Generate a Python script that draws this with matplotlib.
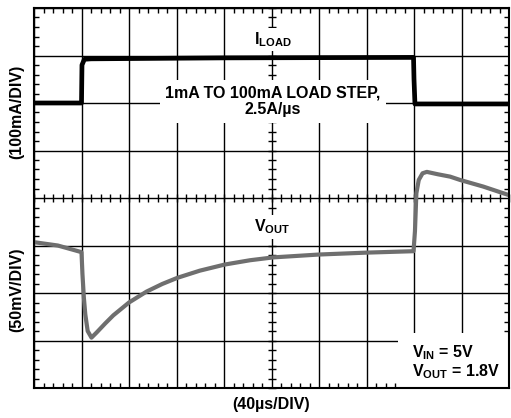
import numpy as np
import matplotlib
matplotlib.use("Agg")
import matplotlib.pyplot as plt
from matplotlib.patches import Rectangle

plt.rcParams['font.family'] = ['Liberation Sans', 'DejaVu Sans']
plt.rcParams['font.weight'] = 'bold'
plt.rcParams['mathtext.fontset'] = 'custom'
plt.rcParams['mathtext.rm'] = 'Liberation Sans:bold'
plt.rcParams['mathtext.it'] = 'Liberation Sans:bold'
plt.rcParams['mathtext.bf'] = 'Liberation Sans:bold'

# time in divisions (40us/div), traces in screen divisions
t_load = [0, 1.0, 1.01, 1.06, 1.2, 4.0, 7.99, 8.0, 8.02, 10.0]
i_load = [6.0, 6.0, 6.8, 6.92, 6.93, 6.95, 6.96, 6.5, 5.98, 5.98]

t_vout = [0, 0.5, 1.0, 1.02, 1.05, 1.08, 1.13, 1.21, 1.32, 1.5, 1.67, 2.0, 2.37,
          2.7, 3.02, 3.49, 4.02, 4.55, 5.04, 6.0, 7.0, 7.99, 8.02, 8.05, 8.1,
          8.18, 8.27, 8.5, 8.76, 8.97, 9.46, 10.0]
v_out = [3.07, 3.0, 2.86, 2.4, 1.9, 1.55, 1.2, 1.06, 1.17, 1.36, 1.53, 1.80, 2.03,
         2.19, 2.32, 2.47, 2.60, 2.69, 2.75, 2.81, 2.85, 2.88, 3.3, 4.1, 4.38,
         4.52, 4.55, 4.5, 4.45, 4.38, 4.24, 4.06]

fig = plt.figure(figsize=(5.11, 4.18), dpi=100)
ax = fig.add_axes([34/511, 30/418, 475/511, 380/418])

ax.set_xlim(0, 10)
ax.set_ylim(0, 8)
ax.set_xticks(np.arange(0, 11, 1))
ax.set_yticks(np.arange(0, 9, 1))
ax.set_xticks(np.arange(0, 10.01, 0.2), minor=True)
ax.set_yticks(np.arange(0, 8.01, 0.2), minor=True)
ax.set_xticklabels([])
ax.set_yticklabels([])
ax.tick_params(which='major', length=0)
ax.tick_params(which='minor', direction='in', length=3.5, width=1,
               top=True, right=True, bottom=True, left=True)
ax.grid(True, which='major', color='black', linewidth=1.0)
for s in ax.spines.values():
    s.set_linewidth(1.5)

# ticks on the centre lines
xm = np.arange(0, 10.01, 0.2)
ym = np.arange(0, 8.01, 0.2)
ax.plot(xm, np.full_like(xm, 4), linestyle='none', marker='|', markersize=6,
        color='black', markeredgewidth=1, zorder=1.6, clip_on=False)
ax.plot(np.full_like(ym, 5), ym, linestyle='none', marker='_', markersize=6,
        color='black', markeredgewidth=1, zorder=1.6, clip_on=False)

ax.plot(t_load, i_load, color='black', linewidth=3.4, zorder=2.2,
        solid_joinstyle='round')
ax.plot(t_vout, v_out, color='#6f6f6f', linewidth=3.0, zorder=2.2,
        solid_joinstyle='round')

# white box behind V_IN / V_OUT note
ax.add_patch(Rectangle((7.66, 0), 2.34, 1.16, facecolor='white',
                       edgecolor='none', zorder=2.0))

fs = 11.5
ax.text(5.03, 7.33, r'I$_{\mathrm{LOAD}}$', ha='center', va='center', fontsize=fs,
        zorder=3, bbox=dict(facecolor='white', edgecolor='none', pad=1.5))
ax.text(5.03, 6.04, '1mA TO 100mA LOAD STEP,\n2.5A/\u00b5s', ha='center',
        va='center', fontsize=fs, linespacing=1.15, zorder=3,
        bbox=dict(facecolor='white', edgecolor='none', pad=4))
ax.text(5.02, 3.39, r'V$_{\mathrm{OUT}}$', ha='center', va='center', fontsize=fs,
        zorder=3, bbox=dict(facecolor='white', edgecolor='none', pad=2))
ax.text(7.96, 0.74, r'V$_{\mathrm{IN}}$ = 5V', ha='left', va='center',
        fontsize=fs, zorder=3)
ax.text(7.96, 0.34, r'V$_{\mathrm{OUT}}$ = 1.8V', ha='left', va='center',
        fontsize=fs, zorder=3)

fig.text(16.5/511, 1 - 112/418, '(100mA/DIV)', rotation=90, ha='center',
         va='center', fontsize=fs)
fig.text(16.5/511, 1 - 290/418, '(50mV/DIV)', rotation=90, ha='center',
         va='center', fontsize=fs)
fig.text(271/511, 1 - 405/418, '(40\u00b5s/DIV)', ha='center', va='center',
         fontsize=fs)

fig.savefig('out.png', dpi=100)
